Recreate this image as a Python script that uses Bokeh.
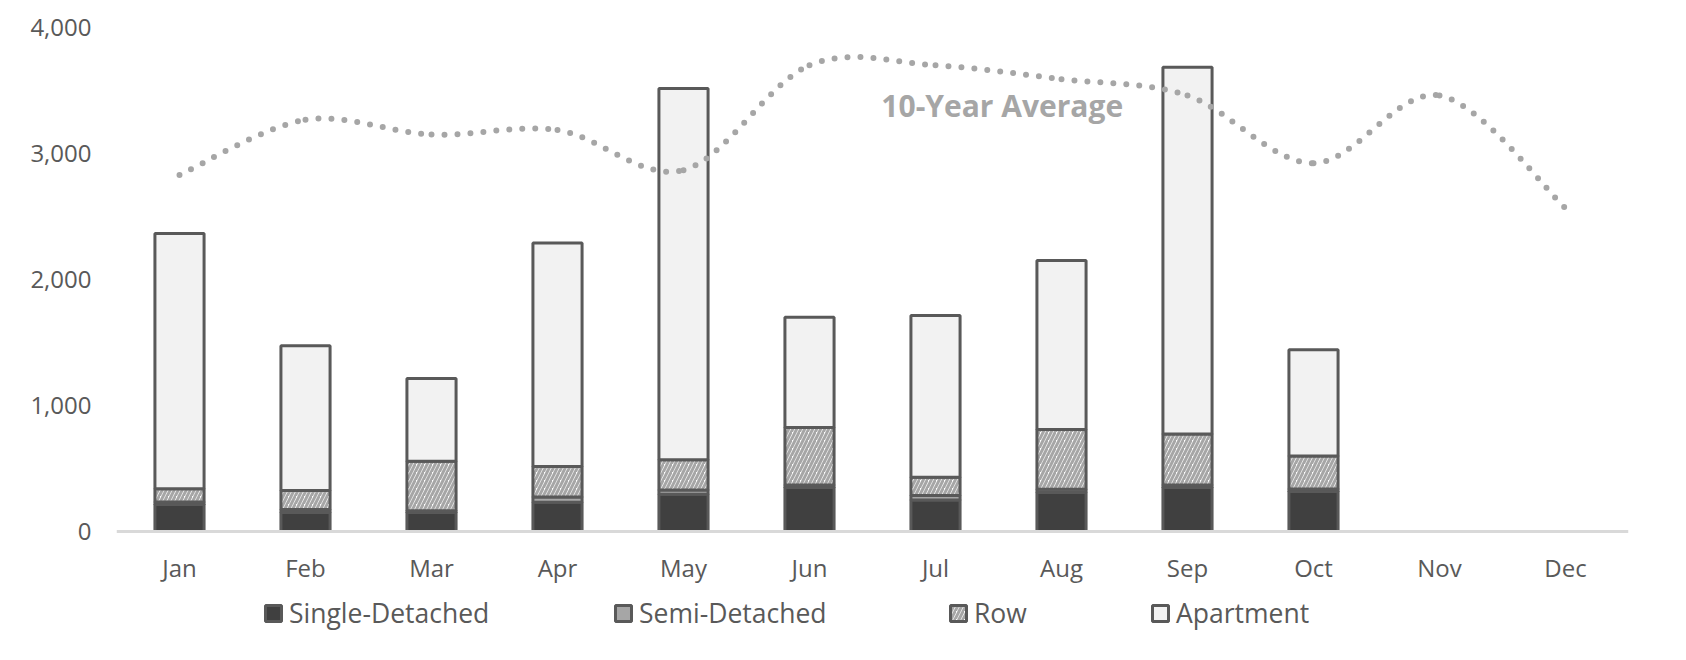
from bokeh.plotting import figure
from bokeh.models import (ColumnDataSource, FixedTicker, NumeralTickFormatter, Legend,
                          LegendItem, Range1d, Label)
from bokeh.transform import stack
from bokeh.embed import file_html
from bokeh.resources import INLINE

# ---------------- data ----------------
months = ["Jan", "Feb", "Mar", "Apr", "May", "Jun", "Jul", "Aug", "Sep", "Oct", "Nov", "Dec"]
bar_months = months[:10]
single_detached = [215, 150, 150, 233, 295, 350, 250, 310, 350, 318]
semi_detached = [20, 25, 15, 40, 35, 20, 35, 25, 20, 20]
row_units = [105, 150, 393, 243, 240, 455, 145, 475, 403, 262]
apartment = [2025, 1150, 657, 1774, 2945, 875, 1285, 1340, 2912, 842]
ten_year_avg = [2830, 3267, 3150, 3186, 2868, 3700, 3700, 3590, 3460, 2923, 3460, 2566]
y_ticks = [0, 1000, 2000, 3000, 4000]

series = ["Single-Detached", "Semi-Detached", "Row", "Apartment"]
values = [single_detached, semi_detached, row_units, apartment]

TEXT = "#595959"
FONT = "Open Sans"

src = ColumnDataSource(dict(x=list(range(len(bar_months))), **{s: v for s, v in zip(series, values)}))

p = figure(width=1670, height=644, output_backend="svg", toolbar_location=None,
           x_range=Range1d(-0.5, len(months) - 0.5), y_range=Range1d(-881, 4000),
           min_border_left=116, min_border_right=42, min_border_top=27, min_border_bottom=2)
p.outline_line_color = None
p.grid.visible = False
p.background_fill_color = "white"
p.border_fill_color = "white"

# y axis
p.yaxis.ticker = FixedTicker(ticks=y_ticks)
p.yaxis.formatter = NumeralTickFormatter(format="0,0")
p.yaxis.axis_line_color = None
p.yaxis.major_tick_line_color = None
p.yaxis.minor_tick_line_color = None
p.yaxis.major_tick_out = 0
p.yaxis.major_label_standoff = 25
p.yaxis.major_label_text_font = FONT
p.yaxis.major_label_text_font_size = "24px"
p.yaxis.major_label_text_color = TEXT

# x axis, drawn at y = 0 inside the frame
p.xaxis.fixed_location = 0
p.xaxis.ticker = FixedTicker(ticks=list(range(len(months))))
p.xaxis.major_label_overrides = {i: m for i, m in enumerate(months)}
p.xaxis.axis_line_color = "#d9d9d9"
p.xaxis.axis_line_width = 3
p.xaxis.major_tick_line_color = None
p.xaxis.minor_tick_line_color = None
p.xaxis.major_tick_out = 0
p.xaxis.major_label_standoff = 20
p.xaxis.major_label_text_font = FONT
p.xaxis.major_label_text_font_size = "24px"
p.xaxis.major_label_text_color = TEXT

# stacked bars
styles = [
    dict(fill_color="#404040"),
    dict(fill_color="#a6a6a6"),
    dict(fill_color="white", hatch_pattern="right_diagonal_line", hatch_color="#a6a6a6",
         hatch_weight=3, hatch_scale=8),
    dict(fill_color="#f2f2f2"),
]
renderers = []
for i, s in enumerate(series):
    r = p.vbar(x="x", width=0.39, bottom=stack(*series[:i]), top=stack(*series[:i + 1]),
               source=src, line_color="#595959", line_width=3, **styles[i])
    renderers.append(r)

# 10-year average: smooth curve through monthly points (Bezier segments)
n = len(ten_year_avg)
xs = list(range(n))
ys = ten_year_avg
x0, y0, x1, y1, cx0, cy0, cx1, cy1 = [], [], [], [], [], [], [], []
for i in range(n - 1):
    pm = max(i - 1, 0)
    pp = min(i + 2, n - 1)
    x0.append(xs[i]); y0.append(ys[i])
    x1.append(xs[i + 1]); y1.append(ys[i + 1])
    cx0.append(xs[i] + (xs[i + 1] - xs[pm]) / 6.0)
    cy0.append(ys[i] + (ys[i + 1] - ys[pm]) / 6.0)
    cx1.append(xs[i + 1] - (xs[pp] - xs[i]) / 6.0)
    cy1.append(ys[i + 1] - (ys[pp] - ys[i]) / 6.0)
bsrc = ColumnDataSource(dict(x0=x0, y0=y0, x1=x1, y1=y1, cx0=cx0, cy0=cy0, cx1=cx1, cy1=cy1))
p.bezier(x0="x0", y0="y0", x1="x1", y1="y1", cx0="cx0", cy0="cy0", cx1="cx1", cy1="cy1",
         source=bsrc, line_color="#a6a6a6", line_width=6, line_dash="0 13", line_cap="round")

p.add_layout(Label(x=5.57, y=3380, text="10-Year Average", text_font=FONT,
                   text_font_size="30px", text_font_style="bold", text_color="#a6a6a6",
                   text_baseline="middle", text_align="left"))

# legend: one entry per legend, positioned like the reference
legend_x = [147, 497, 832, 1034]
for s, r, lx in zip(series, renderers, legend_x):
    lg = Legend(items=[LegendItem(label=s, renderers=[r])], location=(lx, 11),
                orientation="horizontal", border_line_color=None, background_fill_alpha=0,
                padding=0, margin=0, glyph_width=20, glyph_height=20, label_standoff=6,
                label_text_font=FONT, label_text_font_size="26.5px", label_text_color=TEXT)
    p.add_layout(lg, "center")

open("out.html", "w").write(file_html(p, INLINE))
